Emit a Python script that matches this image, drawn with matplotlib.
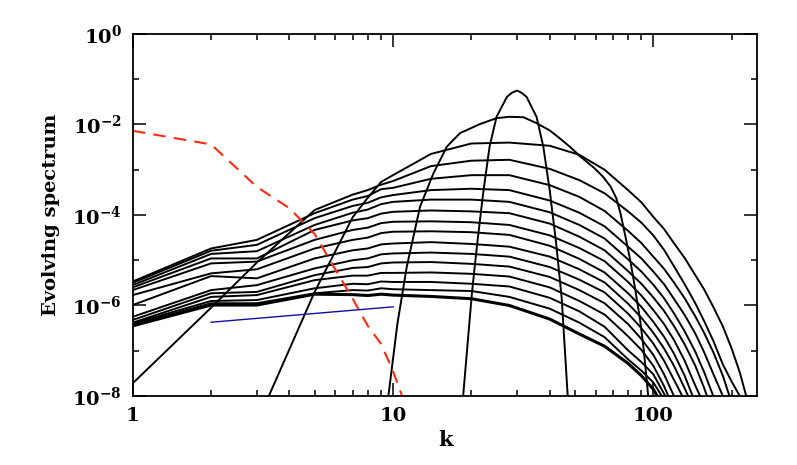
import numpy as np
import matplotlib
matplotlib.use("Agg")
import matplotlib.pyplot as plt
from matplotlib.ticker import FixedLocator, FixedFormatter, NullFormatter

plt.rcParams['font.family'] = ['DejaVu Serif']
plt.rcParams['mathtext.fontset'] = 'dejavuserif'

nan = np.nan

# ---- data (log10 of spectrum) ----
# initial narrow spectrum
k0 = [18.3, 18.6, 20.1, 21.0, 22.2, 23.5, 25.0, 27.4, 28.6, 30.0, 31.2, 32.6, 35.6, 37.8, 40.0, 42.4, 44.5, 46.9, 47.5]
e0 = [-8.6, -8.0, -5.73, -4.70, -3.52, -2.49, -1.83, -1.39, -1.30, -1.25, -1.30, -1.39, -1.83, -2.49, -3.45, -4.65, -5.85, -8.0, -8.6]

# second spectrum
k1 = [9.3, 9.6, 10.4, 11.3, 12.7, 14.3, 16.1, 18.1, 21.6, 25.0, 28.0, 31.7, 35.6, 40.0, 43.6, 48.0, 52.5, 59.0, 64.0, 68.5, 72.0, 74.8, 78.0, 81.5, 85.0, 89.0, 92.0, 95.6, 98.0]
e1 = [-8.6, -8.0, -6.4, -5.14, -3.82, -3.08, -2.49, -2.19, -1.99, -1.86, -1.83, -1.84, -1.97, -2.13, -2.30, -2.50, -2.71, -2.95, -3.15, -3.37, -3.62, -3.96, -4.45, -4.99, -5.60, -6.32, -7.00, -8.0, -8.6]

# later spectra on a common k grid
k_grid = [1, 2, 3, 5, 7, 8, 9, 10, 14, 20, 28, 40, 52, 65, 80, 90, 100, 110, 120, 132, 145, 157, 170, 185, 200, 215, 230]
e2  = [nan, nan, -8.6, -5.70, -4.05, -3.62, -3.27, -3.12, -2.65, -2.42, -2.40, -2.47, -2.67, -3.00, -3.45, -3.72, -4.04, -4.31, -4.62, -4.95, -5.33, -5.65, -6.03, -6.46, -6.95, -7.48, -8.10]
e3  = [-7.72, -6.05, -5.05, -3.89, -3.55, -3.45, -3.33, -3.25, -2.92, -2.80, -2.78, -2.98, -3.23, -3.52, -3.92, -4.17, -4.45, -4.77, -5.13, -5.53, -5.95, -6.35, -6.78, -7.30, -7.68, -8.00, -8.40]
e4  = [-5.47, -4.74, -4.55, -3.96, -3.66, -3.58, -3.43, -3.40, -3.20, -3.12, -3.12, -3.34, -3.60, -3.91, -4.35, -4.62, -4.92, -5.19, -5.49, -5.84, -6.24, -6.61, -7.03, -7.55, -8.15, nan, nan]
e5  = [-5.50, -4.79, -4.66, -4.07, -3.80, -3.73, -3.61, -3.56, -3.45, -3.42, -3.45, -3.68, -3.95, -4.25, -4.70, -4.96, -5.25, -5.53, -5.85, -6.21, -6.62, -7.04, -7.51, -8.00, -8.60, nan, nan]
e6  = [-5.55, -4.86, -4.80, -4.22, -3.95, -3.88, -3.76, -3.71, -3.66, -3.66, -3.71, -3.94, -4.22, -4.52, -4.98, -5.25, -5.54, -5.84, -6.17, -6.57, -7.02, -7.48, -8.00, -8.50, nan, nan, nan]
e7  = [-5.60, -4.96, -4.96, -4.33, -4.12, -4.07, -3.97, -3.93, -3.90, -3.92, -3.96, -4.19, -4.48, -4.78, -5.24, -5.52, -5.82, -6.12, -6.45, -6.86, -7.33, -7.83, -8.40, nan, nan, nan, nan]
e8  = [-5.66, -5.07, -5.03, -4.55, -4.33, -4.28, -4.18, -4.15, -4.14, -4.16, -4.22, -4.45, -4.73, -5.02, -5.48, -5.78, -6.10, -6.41, -6.76, -7.22, -7.77, -8.20, nan, nan, nan, nan, nan]
e9  = [-5.77, -5.29, -5.20, -4.74, -4.55, -4.50, -4.40, -4.37, -4.36, -4.38, -4.44, -4.68, -4.97, -5.27, -5.73, -6.03, -6.36, -6.69, -7.06, -7.55, -8.15, nan, nan, nan, nan, nan, nan]
e10 = [-5.99, -5.35, -5.40, -4.96, -4.78, -4.74, -4.65, -4.63, -4.60, -4.64, -4.70, -4.92, -5.20, -5.49, -5.96, -6.27, -6.60, -6.95, -7.33, -7.83, -8.35, nan, nan, nan, nan, nan, nan]
e11 = [-6.25, -5.66, -5.55, -5.18, -5.00, -4.96, -4.87, -4.85, -4.83, -4.86, -4.92, -5.15, -5.43, -5.71, -6.18, -6.50, -6.84, -7.22, -7.64, -8.10, nan, nan, nan, nan, nan, nan, nan]
e12 = [-6.32, -5.73, -5.70, -5.33, -5.17, -5.15, -5.07, -5.05, -5.04, -5.08, -5.14, -5.37, -5.66, -5.95, -6.41, -6.74, -7.09, -7.52, -8.00, -8.50, nan, nan, nan, nan, nan, nan, nan]
e13 = [-6.38, -5.81, -5.77, -5.44, -5.34, -5.34, -5.28, -5.28, -5.27, -5.30, -5.36, -5.60, -5.90, -6.20, -6.68, -6.98, -7.33, -7.78, -8.30, nan, nan, nan, nan, nan, nan, nan, nan]
e14 = [-6.40, -5.90, -5.88, -5.62, -5.52, -5.53, -5.47, -5.48, -5.48, -5.52, -5.58, -5.83, -6.13, -6.47, -6.99, -7.25, -7.52, -7.95, -8.45, nan, nan, nan, nan, nan, nan, nan, nan]
e15 = [-6.43, -5.95, -5.95, -5.73, -5.66, -5.67, -5.62, -5.64, -5.66, -5.68, -5.81, -6.07, -6.38, -6.70, -7.19, -7.44, -7.70, -8.08, -8.50, nan, nan, nan, nan, nan, nan, nan, nan]
e16 = [-6.45, -5.99, -5.99, -5.75, -5.76, -5.78, -5.75, -5.77, -5.80, -5.85, -6.00, -6.30, -6.63, -6.90, -7.28, -7.55, -7.85, -8.25, -8.60, nan, nan, nan, nan, nan, nan, nan, nan]

# red dashed spectrum
k_red = [1, 2, 3, 4, 5, 6, 7, 8, 9, 10, 11]
e_red = [-2.14, -2.44, -3.38, -3.85, -4.42, -5.20, -5.85, -6.45, -6.85, -7.45, -8.10]

# blue reference slope
k_blue = [2, 10]
e_blue = [-6.37, -6.03]

y_ticks = [1e0, 1e-2, 1e-4, 1e-6, 1e-8]
y_labels = [r'$\mathbf{10^{0}}$', r'$\mathbf{10^{-2}}$', r'$\mathbf{10^{-4}}$', r'$\mathbf{10^{-6}}$', r'$\mathbf{10^{-8}}$']
x_ticks = [1, 10, 100]
x_labels = ['1', '10', '100']

# ---- plot ----
fig = plt.figure(figsize=(7.97, 4.65), dpi=100)
ax = fig.add_axes([0.1665, 0.1484, 0.7837, 0.7785])

def p(v):
    return 10.0 ** np.asarray(v, dtype=float)

ax.plot(k0, p(e0), color='black', lw=1.4)
ax.plot(k1, p(e1), color='black', lw=1.4)
later = [e2, e3, e4, e5, e6, e7, e8, e9, e10, e11, e12, e13, e14, e15, e16]
for i, e in enumerate(later):
    ax.plot(k_grid, p(e), color='black', lw=2.2 if i == len(later) - 1 else 1.4)

ax.plot(k_red, p(e_red), color='#ff2a10', lw=1.5, dashes=(6, 4))
ax.plot(k_blue, p(e_blue), color='#1010a0', lw=1.0)

ax.set_xscale('log')
ax.set_yscale('log')
ax.set_xlim(1, 251)
ax.set_ylim(1e-8, 1e0)

ax.yaxis.set_major_locator(FixedLocator(y_ticks))
ax.yaxis.set_major_formatter(FixedFormatter(y_labels))
ax.yaxis.set_minor_locator(FixedLocator([1e-1, 1e-3, 1e-5, 1e-7]))
ax.yaxis.set_minor_formatter(NullFormatter())
ax.xaxis.set_major_locator(FixedLocator(x_ticks))
ax.xaxis.set_major_formatter(FixedFormatter(x_labels))
minx = [m * d for d in (1, 10, 100) for m in range(2, 10) if m * d < 251]
ax.xaxis.set_minor_locator(FixedLocator(minx))
ax.xaxis.set_minor_formatter(NullFormatter())

ax.tick_params(which='both', direction='in', top=True, right=True, width=1.1, color='black')
ax.tick_params(which='major', length=9.4, labelsize=14, pad=8)
ax.tick_params(which='minor', length=4.1)
for lab in ax.get_xticklabels() + ax.get_yticklabels():
    lab.set_fontweight('bold')
for s in ax.spines.values():
    s.set_linewidth(1.3)

ax.set_xlabel('k', fontsize=15, fontweight='bold')
ax.xaxis.set_label_coords(0.5, -0.094)
ax.set_ylabel('Evolving spectrum', fontsize=14, fontweight='bold')
ax.yaxis.set_label_coords(-0.116, 0.5)

fig.savefig('out.png', dpi=100)
